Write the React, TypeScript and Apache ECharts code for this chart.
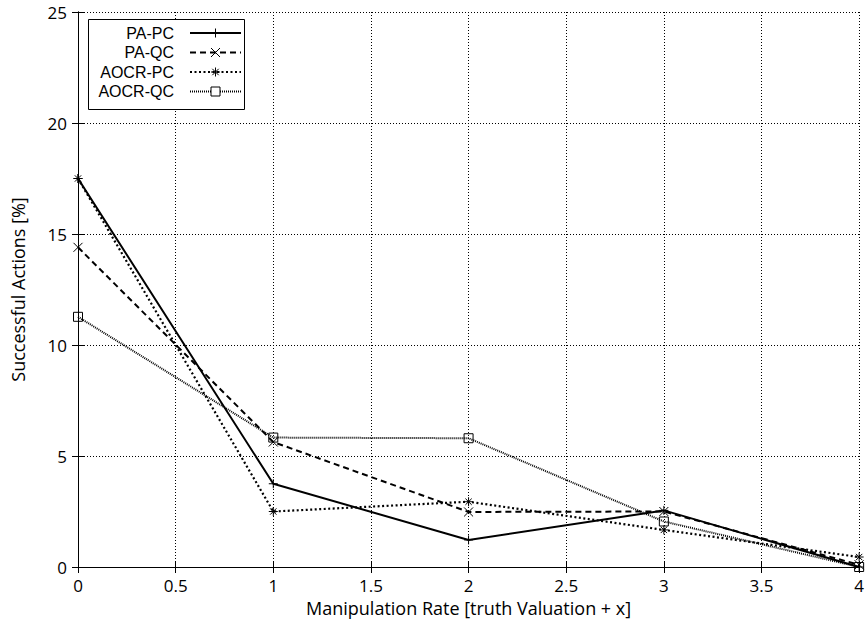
import React, { useEffect, useRef } from "react";
import * as echarts from "echarts";

const xValues = [0, 1, 2, 3, 4];
const paPc = [17.5, 3.75, 1.22, 2.55, 0];
const paQc = [14.4, 5.63, 2.48, 2.5, 0.1];
const aocrPc = [17.5, 2.5, 2.94, 1.67, 0.45];
const aocrQc = [11.27, 5.83, 5.8, 2.05, 0];
const seriesNames = ["PA-PC", "PA-QC", "AOCR-PC", "AOCR-QC"];
const xTickLabels = ["0", "0.5", "1", "1.5", "2", "2.5", "3", "3.5", "4"];
const yTickLabels = ["0", "5", "10", "15", "20", "25"];

const AXIS_FONT = "Open Sans";
const LEGEND_FONT = "Liberation Sans";

const PLUS = "path://M0,5L10,5M5,0L5,10";
const CROSS = "path://M0,0L10,10M10,0L0,10";
const STAR = "path://M0,5L10,5M5,0L5,10M1.5,1.5L8.5,8.5M8.5,1.5L1.5,8.5";
const SQUARE = "path://M0,0L10,0L10,10L0,10Z";

const styles = [
  { symbol: PLUS, width: 2, dash: "solid" as any, kind: "plus" },
  { symbol: CROSS, width: 2, dash: [6, 4] as any, kind: "cross" },
  { symbol: STAR, width: 2.2, dash: [2, 2.5] as any, kind: "star" },
  { symbol: SQUARE, width: 2, dash: [1, 1] as any, kind: "square" },
];

function markerGraphics(kind: string, cx: number, cy: number) {
  const s = 4.5;
  const st = { stroke: "#000", lineWidth: 1 };
  const l = (x1: number, y1: number, x2: number, y2: number) => ({
    type: "line",
    z: 101,
    shape: { x1, y1, x2, y2 },
    style: st,
  });
  if (kind === "plus") return [l(cx - s, cy, cx + s, cy), l(cx, cy - s, cx, cy + s)];
  if (kind === "cross") return [l(cx - s, cy - s, cx + s, cy + s), l(cx + s, cy - s, cx - s, cy + s)];
  if (kind === "star")
    return [
      l(cx - s, cy, cx + s, cy),
      l(cx, cy - s, cx, cy + s),
      l(cx - 3.2, cy - 3.2, cx + 3.2, cy + 3.2),
      l(cx + 3.2, cy - 3.2, cx - 3.2, cy + 3.2),
    ];
  return [
    {
      type: "rect",
      z: 101,
      shape: { x: cx - s, y: cy - s, width: 2 * s, height: 2 * s },
      style: { stroke: "#000", fill: "#fff", lineWidth: 1 },
    },
  ];
}

export default function App() {
  const ref = useRef<HTMLDivElement>(null);
  useEffect(() => {
    if (!ref.current) return;
    const chart = echarts.init(ref.current, undefined, { renderer: "svg" });
    const allData = [paPc, paQc, aocrPc, aocrQc];

    const legendGraphics: any[] = [
      {
        type: "rect",
        z: 100,
        shape: { x: 88.5, y: 19.5, width: 156, height: 90 },
        style: { stroke: "#000", fill: "#fff", lineWidth: 1 },
      },
    ];
    const rowY = [33, 52.5, 72, 91.5];
    seriesNames.forEach((name, i) => {
      legendGraphics.push({
        type: "text",
        z: 101,
        x: 174,
        y: rowY[i],
        style: {
          text: name,
          fill: "#000",
          font: `16px "${LEGEND_FONT}"`,
          textAlign: "right",
          textVerticalAlign: "middle",
        },
      });
      legendGraphics.push({
        type: "line",
        z: 101,
        shape: { x1: 190, y1: rowY[i], x2: 241, y2: rowY[i] },
        style: {
          stroke: "#000",
          lineWidth: styles[i].width,
          lineDash: styles[i].dash === "solid" ? null : styles[i].dash,
        },
      });
      legendGraphics.push(...markerGraphics(styles[i].kind, 215.5, rowY[i]));
    });

    const axisCommon = {
      type: "value" as const,
      axisLine: { show: true, lineStyle: { color: "#000", width: 1 } },
      axisTick: { show: true, inside: true, length: 6, lineStyle: { color: "#000", width: 1 } },
    };

    chart.setOption({
      animation: false,
      backgroundColor: "#fff",
      grid: { left: 78, right: 6, top: 12, bottom: 65, containLabel: false },
      xAxis: [
        {
          ...axisCommon,
          position: "bottom",
          min: 0,
          max: 4,
          interval: 0.5,
          name: "Manipulation Rate [truth Valuation + x]",
          nameLocation: "middle",
          nameGap: 22,
          nameTextStyle: { color: "#000", fontFamily: AXIS_FONT, fontSize: 18 },
          axisLabel: {
            color: "#000",
            fontFamily: AXIS_FONT,
            fontSize: 17,
            margin: 10,
            formatter: (v: number) => xTickLabels[Math.round(v * 2)] ?? String(v),
          },
          splitLine: { show: true, lineStyle: { color: "#000", width: 1, type: [1, 2] } },
        },
        {
          ...axisCommon,
          position: "top",
          min: 0,
          max: 4,
          interval: 0.5,
          axisLabel: { show: false },
          splitLine: { show: false },
        },
      ],
      yAxis: [
        {
          ...axisCommon,
          position: "left",
          min: 0,
          max: 25,
          interval: 5,
          name: "Successful Actions [%]",
          nameLocation: "middle",
          nameGap: 51,
          nameTextStyle: { color: "#000", fontFamily: AXIS_FONT, fontSize: 18 },
          axisLabel: {
            color: "#000",
            fontFamily: AXIS_FONT,
            fontSize: 17,
            margin: 11,
            formatter: (v: number) => yTickLabels[Math.round(v / 5)] ?? String(v),
          },
          splitLine: { show: true, lineStyle: { color: "#000", width: 1, type: [1, 2] } },
        },
        {
          ...axisCommon,
          position: "right",
          min: 0,
          max: 25,
          interval: 5,
          axisLabel: { show: false },
          splitLine: { show: false },
        },
      ],
      series: seriesNames.map((name, i) => ({
        name,
        type: "line",
        xAxisIndex: 0,
        yAxisIndex: 0,
        clip: false,
        data: xValues.map((x, j) => [x, allData[i][j]]),
        symbol: styles[i].symbol,
        symbolSize: 9,
        showSymbol: true,
        itemStyle: { color: "rgba(0,0,0,0)", borderColor: "#000", borderWidth: 1 },
        lineStyle: {
          color: "#000",
          width: styles[i].width,
          type: styles[i].dash,
        },
        emphasis: { disabled: true },
        z: 10 - i,
      })),
      graphic: legendGraphics,
    });
    return () => chart.dispose();
  }, []);
  return (
    <div
      ref={ref}
      style={{ position: "fixed", left: 0, top: 0, width: 867, height: 632, background: "#fff" }}
    />
  );
}
